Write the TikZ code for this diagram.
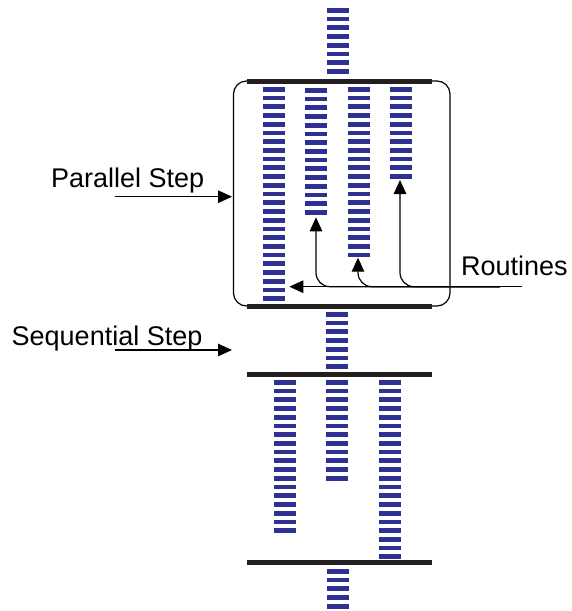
\documentclass[tikz,border=0pt]{standalone}
\usepackage{fontspec}
\setmainfont{Liberation Sans}
\usetikzlibrary{arrows.meta}

\definecolor{rungblue}{RGB}{46,49,146}
\definecolor{barblack}{RGB}{35,31,32}

\begin{document}
\begin{tikzpicture}[x=1pt,y=-1pt,
    stepbar/.style={line width=4.5pt,color=barblack},
    rung/.style={fill=rungblue},
    pointer/.style={line width=1.2pt,-{Triangle[length=14pt,width=12.5pt]}},
    steptext/.style={inner sep=0pt,anchor=base west,font=\fontsize{27}{32}\selectfont}]
  % fixed frame of the drawing
  \useasboundingbox (0,0) rectangle (571,611);

  % --- STRANDS (left edge / top of first rung / number of rungs) ---
  \foreach \x/\y/\n in {327/8/8, 263/87/25, 305/88/15, 348/87/20, 390/87/11,
                        326/312/7, 274/380/18, 326/380/12, 379/380/21, 327/569/5}{
    \foreach \k in {1,...,\n}{
      \fill[rung] (\x,{\y+(\k-1)*8.72}) rectangle ++(22,4.7);
    }
  }

  % --- PARALLEL STEP BOX ---
  \draw[line width=1.2pt,rounded corners=13pt] (233.5,81) rectangle (450,306);

  % --- STEP BARS ---
  \foreach \y in {81.3,306.5,374.5,562.5}
    \draw[stepbar] (247,\y) -- (432,\y);

  % --- LABELS ---
  \node[steptext] (parallel) at (51,187) {Parallel Step};
  \node[steptext] (sequential) at (11.5,345.5) {Sequential Step};
  \node[steptext] (routines) at (461,275) {Routines};

  % --- POINTERS ---
  \coordinate (par-from) at (115,196.7);
  \coordinate (par-to)   at (232,196.7);
  \coordinate (seq-from) at (115,350);
  \coordinate (seq-to)   at (232,350);
  \draw[pointer] (par-from) -- (par-to);
  \draw[pointer] (seq-from) -- (seq-to);

  % routines: one line in, branching up to the strands
  \coordinate (rt-end)  at (522,286.7);
  \coordinate (rt-join) at (500,286.7);
  \coordinate (rt-main) at (289.3,286.7);
  \coordinate (rt-a) at (316,217.3);
  \coordinate (rt-b) at (358,257.7);
  \coordinate (rt-c) at (400,180);
  \draw[pointer] (rt-end) -- (rt-main);
  \foreach \t in {a,b,c}
    \draw[pointer,rounded corners=14pt] (rt-join) -| (rt-\t);

\end{tikzpicture}
\end{document}
